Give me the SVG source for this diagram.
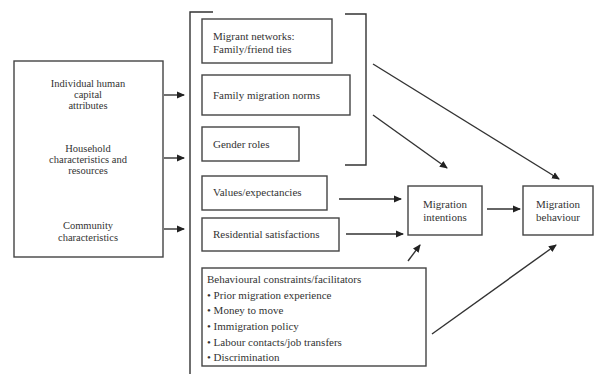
<svg xmlns="http://www.w3.org/2000/svg" width="594" height="374" viewBox="0 0 594 374">
<defs>
<style>
.box{fill:#fff;stroke:#444;stroke-width:1.4}
.ln{fill:none;stroke:#333;stroke-width:1.4}
.t{font-family:"Liberation Serif","Times New Roman",serif;font-size:11px;fill:#333}
.s{font-size:10.5px}
.c{text-anchor:middle}
</style>
<marker id="ah" markerWidth="8" markerHeight="8" refX="7" refY="4" orient="auto" markerUnits="userSpaceOnUse">
<path d="M0,0.5 L8,4 L0,7.5 Z" fill="#222"/>
</marker>
</defs>
<rect width="594" height="374" fill="#fff"/>
<g id="determinants">
<rect class="box" x="14" y="61" width="149" height="196"/>
<text class="t s c" x="88" y="87">Individual human</text>
<text class="t s c" x="88" y="98">capital</text>
<text class="t s c" x="88" y="109">attributes</text>
<text class="t s c" x="88" y="152">Household</text>
<text class="t s c" x="88" y="163">characteristics and</text>
<text class="t s c" x="88" y="174">resources</text>
<text class="t s c" x="88" y="229">Community</text>
<text class="t s c" x="88" y="241">characteristics</text>
</g>
<g id="brackets">
<path class="ln" d="M213,12 H190 V374"/>
<path class="ln" d="M345,14 H366 V165 H345"/>
</g>
<g id="migrant-networks">
<rect class="box" x="202" y="19" width="130" height="44"/>
<text class="t" x="213" y="40">Migrant networks:</text>
<text class="t" x="213" y="53">Family/friend ties</text>
</g>
<g id="family-norms">
<rect class="box" x="202" y="75" width="148" height="40"/>
<text class="t" x="213" y="99">Family migration norms</text>
</g>
<g id="gender-roles">
<rect class="box" x="202" y="127" width="97" height="34"/>
<text class="t" x="213" y="148">Gender roles</text>
</g>
<g id="values">
<rect class="box" x="202" y="176" width="125" height="34"/>
<text class="t" x="213" y="196">Values/expectancies</text>
</g>
<g id="residential">
<rect class="box" x="202" y="218" width="137" height="33"/>
<text class="t" x="213" y="238">Residential satisfactions</text>
</g>
<g id="constraints">
<rect class="box" x="202" y="268" width="224" height="98"/>
<text class="t" x="207" y="283">Behavioural constraints/facilitators</text>
<text class="t" x="207" y="299">• Prior migration experience</text>
<text class="t" x="207" y="314">• Money to move</text>
<text class="t" x="207" y="330">• Immigration policy</text>
<text class="t" x="207" y="346">• Labour contacts/job transfers</text>
<text class="t" x="207" y="361">• Discrimination</text>
</g>
<g id="intentions">
<rect class="box" x="408" y="186" width="74" height="49"/>
<text class="t c" x="445" y="208">Migration</text>
<text class="t c" x="445" y="221">intentions</text>
</g>
<g id="behaviour">
<rect class="box" x="523" y="186" width="70" height="49"/>
<text class="t c" x="558" y="208">Migration</text>
<text class="t c" x="558" y="221">behaviour</text>
</g>
<g id="connectors">
<line class="ln" x1="164" y1="95" x2="184" y2="95" stroke-width="2" marker-end="url(#ah)"/>
<line class="ln" x1="164" y1="158" x2="184" y2="158" stroke-width="2" marker-end="url(#ah)"/>
<line class="ln" x1="164" y1="229" x2="184" y2="229" stroke-width="2" marker-end="url(#ah)"/>
<line class="ln" x1="373" y1="64" x2="559" y2="179" marker-end="url(#ah)"/>
<line class="ln" x1="373" y1="115" x2="447" y2="168" marker-end="url(#ah)"/>
<line class="ln" x1="339" y1="199" x2="401" y2="199" marker-end="url(#ah)"/>
<line class="ln" x1="346" y1="234" x2="403" y2="234" stroke-width="1.8" marker-end="url(#ah)"/>
<line class="ln" x1="408" y1="261" x2="420" y2="245" stroke-width="2" marker-end="url(#ah)"/>
<line class="ln" x1="487" y1="209" x2="520" y2="209" stroke-width="2.5" marker-end="url(#ah)"/>
<line class="ln" x1="432" y1="334" x2="556" y2="245" marker-end="url(#ah)"/>
</g>
</svg>
